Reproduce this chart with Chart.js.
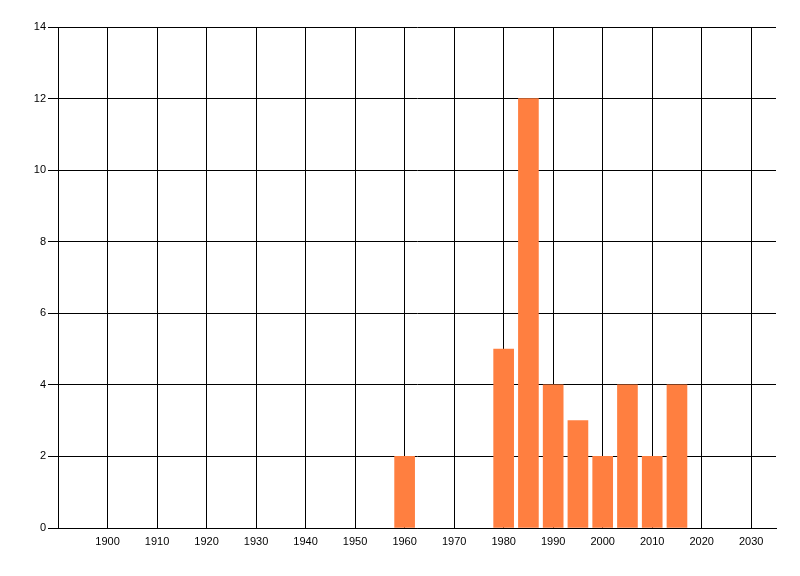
<!DOCTYPE html>
<html>
<head>
<meta charset="utf-8">
<script src="https://cdn.jsdelivr.net/npm/chart.js@4/dist/chart.umd.min.js"></script>
<style>
  html, body { margin: 0; padding: 0; background: #fff; }
  #wrap { width: 800px; height: 576px; }
</style>
</head>
<body>
<div id="wrap"><canvas id="myChart"></canvas></div>
<script>
var years = [1960, 1980, 1985, 1990, 1995, 2000, 2005, 2010, 2015];
var counts = [2, 5, 12, 4, 3, 2, 4, 2, 4];
var xTicks = [1900, 1910, 1920, 1930, 1940, 1950, 1960, 1970, 1980, 1990, 2000, 2010, 2020, 2030];
var yTicks = [0, 2, 4, 6, 8, 10, 12, 14];

var points = years.map(function (y, i) { return { x: y, y: counts[i] }; });

new Chart("myChart", {
  type: "bar",
  data: {
    datasets: [{
      data: points,
      backgroundColor: "#FF7F40",
      borderWidth: 0,
      barThickness: 20
    }]
  },
  options: {
    responsive: true,
    maintainAspectRatio: false,
    animation: false,
    layout: { padding: { top: 27, right: 24, left: 0, bottom: 0 } },
    plugins: { legend: { display: false }, tooltip: { enabled: false } },
    scales: {
      x: {
        type: "linear",
        min: 1890,
        max: 2035,
        offset: false,
        grid: { color: "#000", lineWidth: 1, drawTicks: false, offset: false },
        border: { color: "#000", width: 1 },
        ticks: {
          color: "#000",
          padding: 7,
          maxRotation: 0,
          font: { family: "Liberation Sans", size: 11 },
          callback: function (v) { return String(v); }
        },
        afterBuildTicks: function (scale) {
          scale.ticks = xTicks.map(function (v) { return { value: v }; });
        },
        afterFit: function (scale) { scale.height = 48; }
      },
      y: {
        min: 0,
        max: 14,
        grid: { color: "#000", lineWidth: 1, tickLength: 10 },
        border: { color: "#000", width: 1 },
        ticks: {
          color: "#000",
          padding: 2,
          font: { family: "Liberation Sans", size: 11 }
        },
        afterBuildTicks: function (scale) {
          scale.ticks = yTicks.map(function (v) { return { value: v }; });
        },
        afterFit: function (scale) { scale.width = 58; }
      }
    }
  }
});
</script>
</body>
</html>
